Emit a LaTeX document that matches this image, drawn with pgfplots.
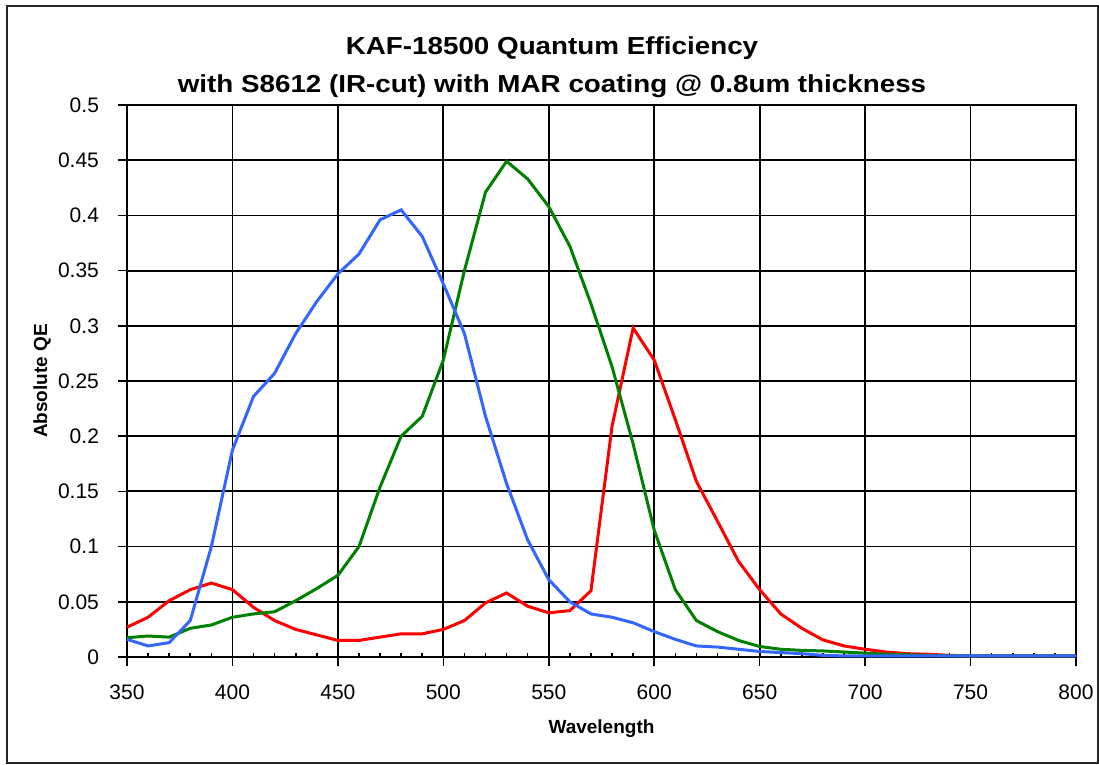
\documentclass[border=0pt]{standalone}
\usepackage{fontspec}
\setmainfont{Liberation Sans}
\newfontfamily\titlefont[FakeStretch=1.13]{Liberation Sans}
\usepackage{pgfplots}
\usepackage{pgfplotstable}
\pgfplotsset{compat=1.18}

\definecolor{qeblue}{RGB}{51,102,255}
\definecolor{qegreen}{RGB}{0,128,0}
\definecolor{qered}{RGB}{255,0,0}

% wavelength (nm), absolute QE of blue, green and red pixels
\pgfplotstableread{
wl   blue    green   red
350  0.016   0.0175  0.027
360  0.010   0.019   0.036
370  0.013   0.018   0.051
380  0.033   0.026   0.061
390  0.100   0.029   0.067
400  0.1875  0.036   0.061
410  0.236   0.039   0.045
420  0.257   0.041   0.033
430  0.293   0.051   0.025
440  0.322   0.062   0.020
450  0.347   0.074   0.015
460  0.365   0.100   0.015
470  0.396   0.154   0.018
480  0.405   0.200   0.021
490  0.381   0.218   0.021
500  0.338   0.269   0.025
510  0.293   0.350   0.033
520  0.218   0.421   0.049
530  0.157   0.449   0.058
540  0.106   0.433   0.046
550  0.070   0.408   0.040
560  0.050   0.372   0.042
570  0.039   0.320   0.060
580  0.036   0.263   0.209
590  0.031   0.193   0.298
600  0.023   0.115   0.269
610  0.016   0.061   0.215
620  0.010   0.033   0.159
630  0.009   0.023   0.123
640  0.007   0.015   0.0865
650  0.005   0.0095  0.061
660  0.004   0.007   0.039
670  0.003   0.006   0.026
680  0.0015  0.0055  0.0155
690  0.001   0.0045  0.010
700  0.001   0.0035  0.007
710  0.001   0.0025  0.0045
720  0.001   0.002   0.003
730  0.001   0.0015  0.0025
740  0.001   0.001   0.0015
750  0.001   0.001   0.001
760  0.001   0.001   0.001
770  0.001   0.001   0.001
780  0.001   0.001   0.001
790  0.001   0.001   0.001
800  0.001   0.001   0.001
}\qedata

\begin{document}
\begin{tikzpicture}
\useasboundingbox (-63.5pt,-54pt) rectangle (486pt,328.5pt);
\draw[line width=0.8pt, black!85] (-60pt,-53pt) rectangle (485.5pt,325.5pt);
\begin{axis}[
  at={(0,0)}, anchor=south west,
  scale only axis, width=474.5pt, height=276pt,
  xmin=350, xmax=800, ymin=0, ymax=0.5,
  xtick={350,400,450,500,550,600,650,700,750,800},
  ytick={0,0.05,0.1,0.15,0.2,0.25,0.3,0.35,0.4,0.45,0.5},
  yticklabels={0,0.05,0.1,0.15,0.2,0.25,0.3,0.35,0.4,0.45,0.5},
  minor x tick num=4,
  tick pos=left, tick align=center,
  major tick length=9pt, minor tick length=2pt,
  minor tick style={yshift=1pt},
  every tick/.style={black, line width=0.8pt},
  grid=major, major grid style={black, line width=0.9pt},
  axis line style={black, line width=0.9pt},
  /pgf/number format/assume math mode=true,
  tick label style={font=\fontsize{10.5}{12}\selectfont},
  xticklabel style={yshift=-6pt},
  yticklabel style={xshift=-6pt},
  clip=false,
]
\addplot[qered, line width=1.5pt] table[x=wl, y=red] {\qedata};
\addplot[qegreen, line width=1.5pt] table[x=wl, y=green] {\qedata};
\addplot[qeblue, line width=1.5pt] table[x=wl, y=blue] {\qedata};
\end{axis}
\node[align=center, font=\titlefont\bfseries\fontsize{12.3}{19}\selectfont] at (212.5pt,295pt)
  {KAF-18500 Quantum Efficiency\\with S8612 (IR-cut) with MAR coating @ 0.8um thickness};
\node[font=\bfseries\fontsize{9.5}{11}\selectfont] at (237.25pt,-36pt) {Wavelength};
\node[font=\bfseries\fontsize{9.5}{11}\selectfont, rotate=90] at (-42.5pt,138pt) {Absolute QE};
\end{tikzpicture}
\end{document}
